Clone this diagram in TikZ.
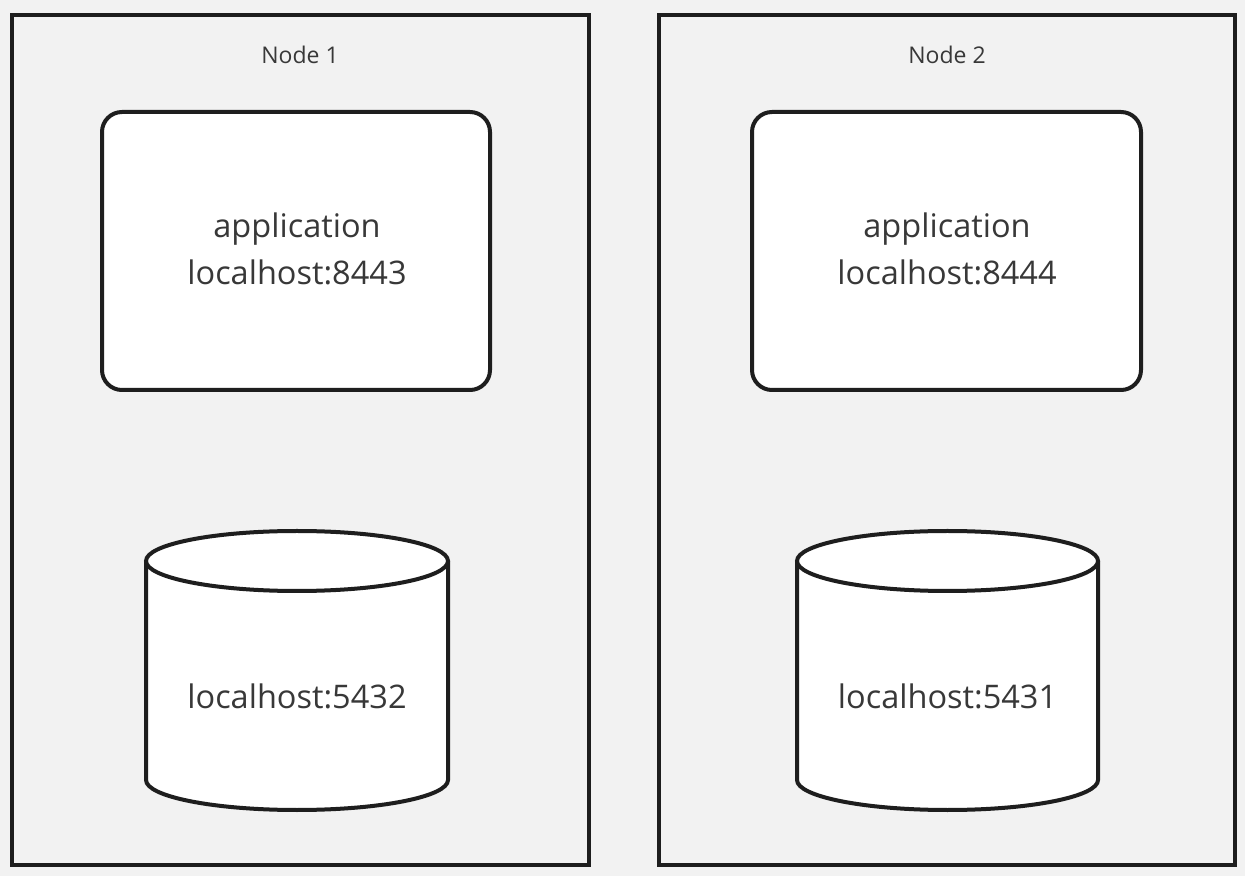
\documentclass[tikz,border=0pt]{standalone}
\usepackage{fontspec}
\setmainfont{Open Sans}
\usepackage{xcolor}
\usepackage{tikz}

\definecolor{bggray}{HTML}{F2F2F2}
\definecolor{linedark}{HTML}{1E1E1E}
\definecolor{textdark}{HTML}{383838}

\begin{document}
\begin{tikzpicture}[x=1pt, y=1pt,
		hostbox/.style={draw=linedark, line width=4pt, fill=bggray},
		appbox/.style={draw=linedark, line width=4pt, fill=white, rounded corners=20pt},
		cyl/.style={draw=linedark, line width=4pt, fill=white},
		hostlabel/.style={text=textdark, font=\fontsize{23}{27}\selectfont},
		applabel/.style={text=textdark, align=center, font=\fontsize{32.5}{47}\selectfont}]
		\useasboundingbox[fill=bggray] (0,0) rectangle (1245,876);

		% Node 1
		\begin{scope}
			\draw[hostbox] (12,11) rectangle (589,861);
			\node[hostlabel] (title1) at (300,821) {Node 1};
			\draw[appbox] (102,764) rectangle (490,486);
			\node[applabel] (app1) at (297,627) {application\\localhost:8443};
			\filldraw[cyl] (146,315) -- (146,96) arc[start angle=180, end angle=360, x radius=151pt, y radius=30pt] -- (448,315);
			\draw[cyl] (297,315) ellipse [x radius=151pt, y radius=30pt];
			\node[applabel] (db1) at (297,180) {localhost:5432};
		\end{scope}

		% Node 2
		\begin{scope}
			\draw[hostbox] (659,11) rectangle (1235,861);
			\node[hostlabel] (title2) at (947,821) {Node 2};
			\draw[appbox] (752,764) rectangle (1141,486);
			\node[applabel] (app2) at (947,627) {application\\localhost:8444};
			\filldraw[cyl] (797,315) -- (797,96) arc[start angle=180, end angle=360, x radius=150.5pt, y radius=30pt] -- (1098,315);
			\draw[cyl] (947.5,315) ellipse [x radius=150.5pt, y radius=30pt];
			\node[applabel] (db2) at (947.5,180) {localhost:5431};
		\end{scope}
	\end{tikzpicture}
\end{document}
